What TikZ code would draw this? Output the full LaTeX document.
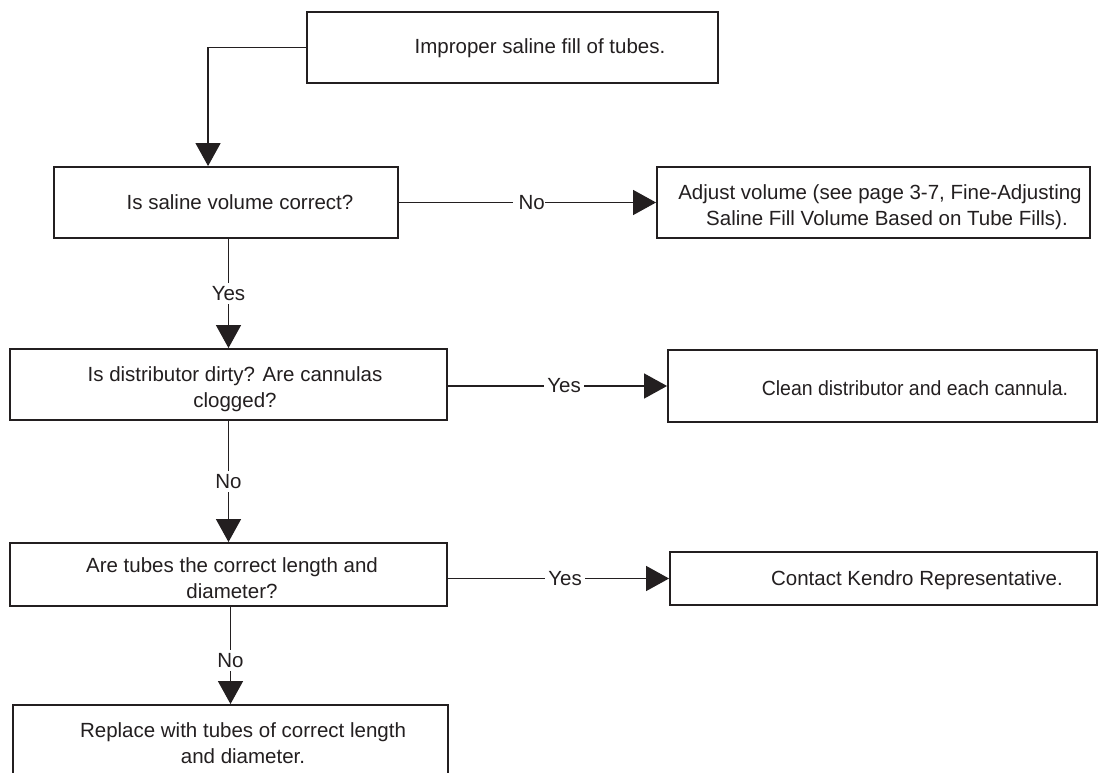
\documentclass[tikz,border=0pt]{standalone}
\usepackage{fontspec}
\setmainfont{Liberation Sans}
\usetikzlibrary{arrows.meta,calc}
\definecolor{ink}{HTML}{231F20}
\tikzset{
  box/.style={draw=ink, line width=1.9pt, rectangle, inner sep=0pt},
  txt/.style={text=ink, font=\fontsize{20.5}{26}\selectfont, align=center, inner sep=0pt},
  lbl/.style={text=ink, font=\fontsize{20.5}{26}\selectfont, fill=white, inner sep=3pt},
  flow/.style={draw=ink, line width=1.4pt, -{Triangle[length=23pt,width=25pt]}},
}
\begin{document}
\begin{tikzpicture}[x=1pt,y=-1pt]
\useasboundingbox (0,0) rectangle (1100,773);
\clip (0,0) rectangle (1100,773);
\fill[white] (0,0) rectangle (1100,773);

% boxes
\node[box, minimum width=411pt, minimum height=71pt] (b1) at (512.5,47.5) {};
\node[box, minimum width=344pt, minimum height=71pt] (b2) at (226,202.5) {};
\node[box, minimum width=433pt, minimum height=71pt] (b2r) at (873.5,202.5) {};
\node[box, minimum width=437pt, minimum height=71pt] (b3) at (228.5,384.5) {};
\node[box, minimum width=429pt, minimum height=72pt] (b3r) at (882.5,386) {};
\node[box, minimum width=437pt, minimum height=63pt] (b4) at (228.5,574.5) {};
\node[box, minimum width=427pt, minimum height=53pt] (b4r) at (883.5,578.5) {};
\node[box, minimum width=435pt, minimum height=100pt] (b5) at (230.5,755) {};

% box texts
\node[txt] (t1) at (540,48) {Improper saline fill of tubes.};
\node[txt] (t2) at (240,202) {Is saline volume correct?};
\node[txt] (t2r) at (880,207) {Adjust volume (see page 3-7, Fine-Adjusting\\\hspace*{14pt}Saline Fill Volume Based on Tube Fills).};
\node[txt] (t3) at (235,389) {Is distributor dirty? Are cannulas\\clogged?};
\node[txt] (t3r) at (915,388) {\scalebox{0.95}[1]{Clean distributor and each cannula.}};
\node[txt] (t4) at (232,578) {Are tubes the correct length and\\diameter?};
\node[txt] (t4r) at (917,580) {Contact Kendro Representative.};
\node[txt, anchor=north] (t5) at (243,722) {Replace with tubes of correct length\\and diameter.};

% connectors
\path (b2.north west) ++(155,0) coordinate (j1);
\draw[flow] (b1.west) -| (j1);
\draw[flow] (b2.east) -- (b2r.west) node[lbl, pos=0.505, inner xsep=0pt] {\hspace*{6pt}No};
\draw[flow] (b3.east |- b3r.west) -- (b3r.west) node[lbl, pos=0.53] {Yes};
\draw[flow] (b4.east |- b4r.west) -- (b4r.west) node[lbl, pos=0.53] {Yes};
\draw[flow] (b3.north |- b2.south) -- (b3.north) node[lbl, pos=0.5] {Yes};
\draw[flow] (b4.north |- b3.south) -- (b4.north) node[lbl, pos=0.5] {No};
\draw[flow] (b5.north |- b4.south) -- (b5.north) node[lbl, pos=0.55] {No};
\end{tikzpicture}
\end{document}
